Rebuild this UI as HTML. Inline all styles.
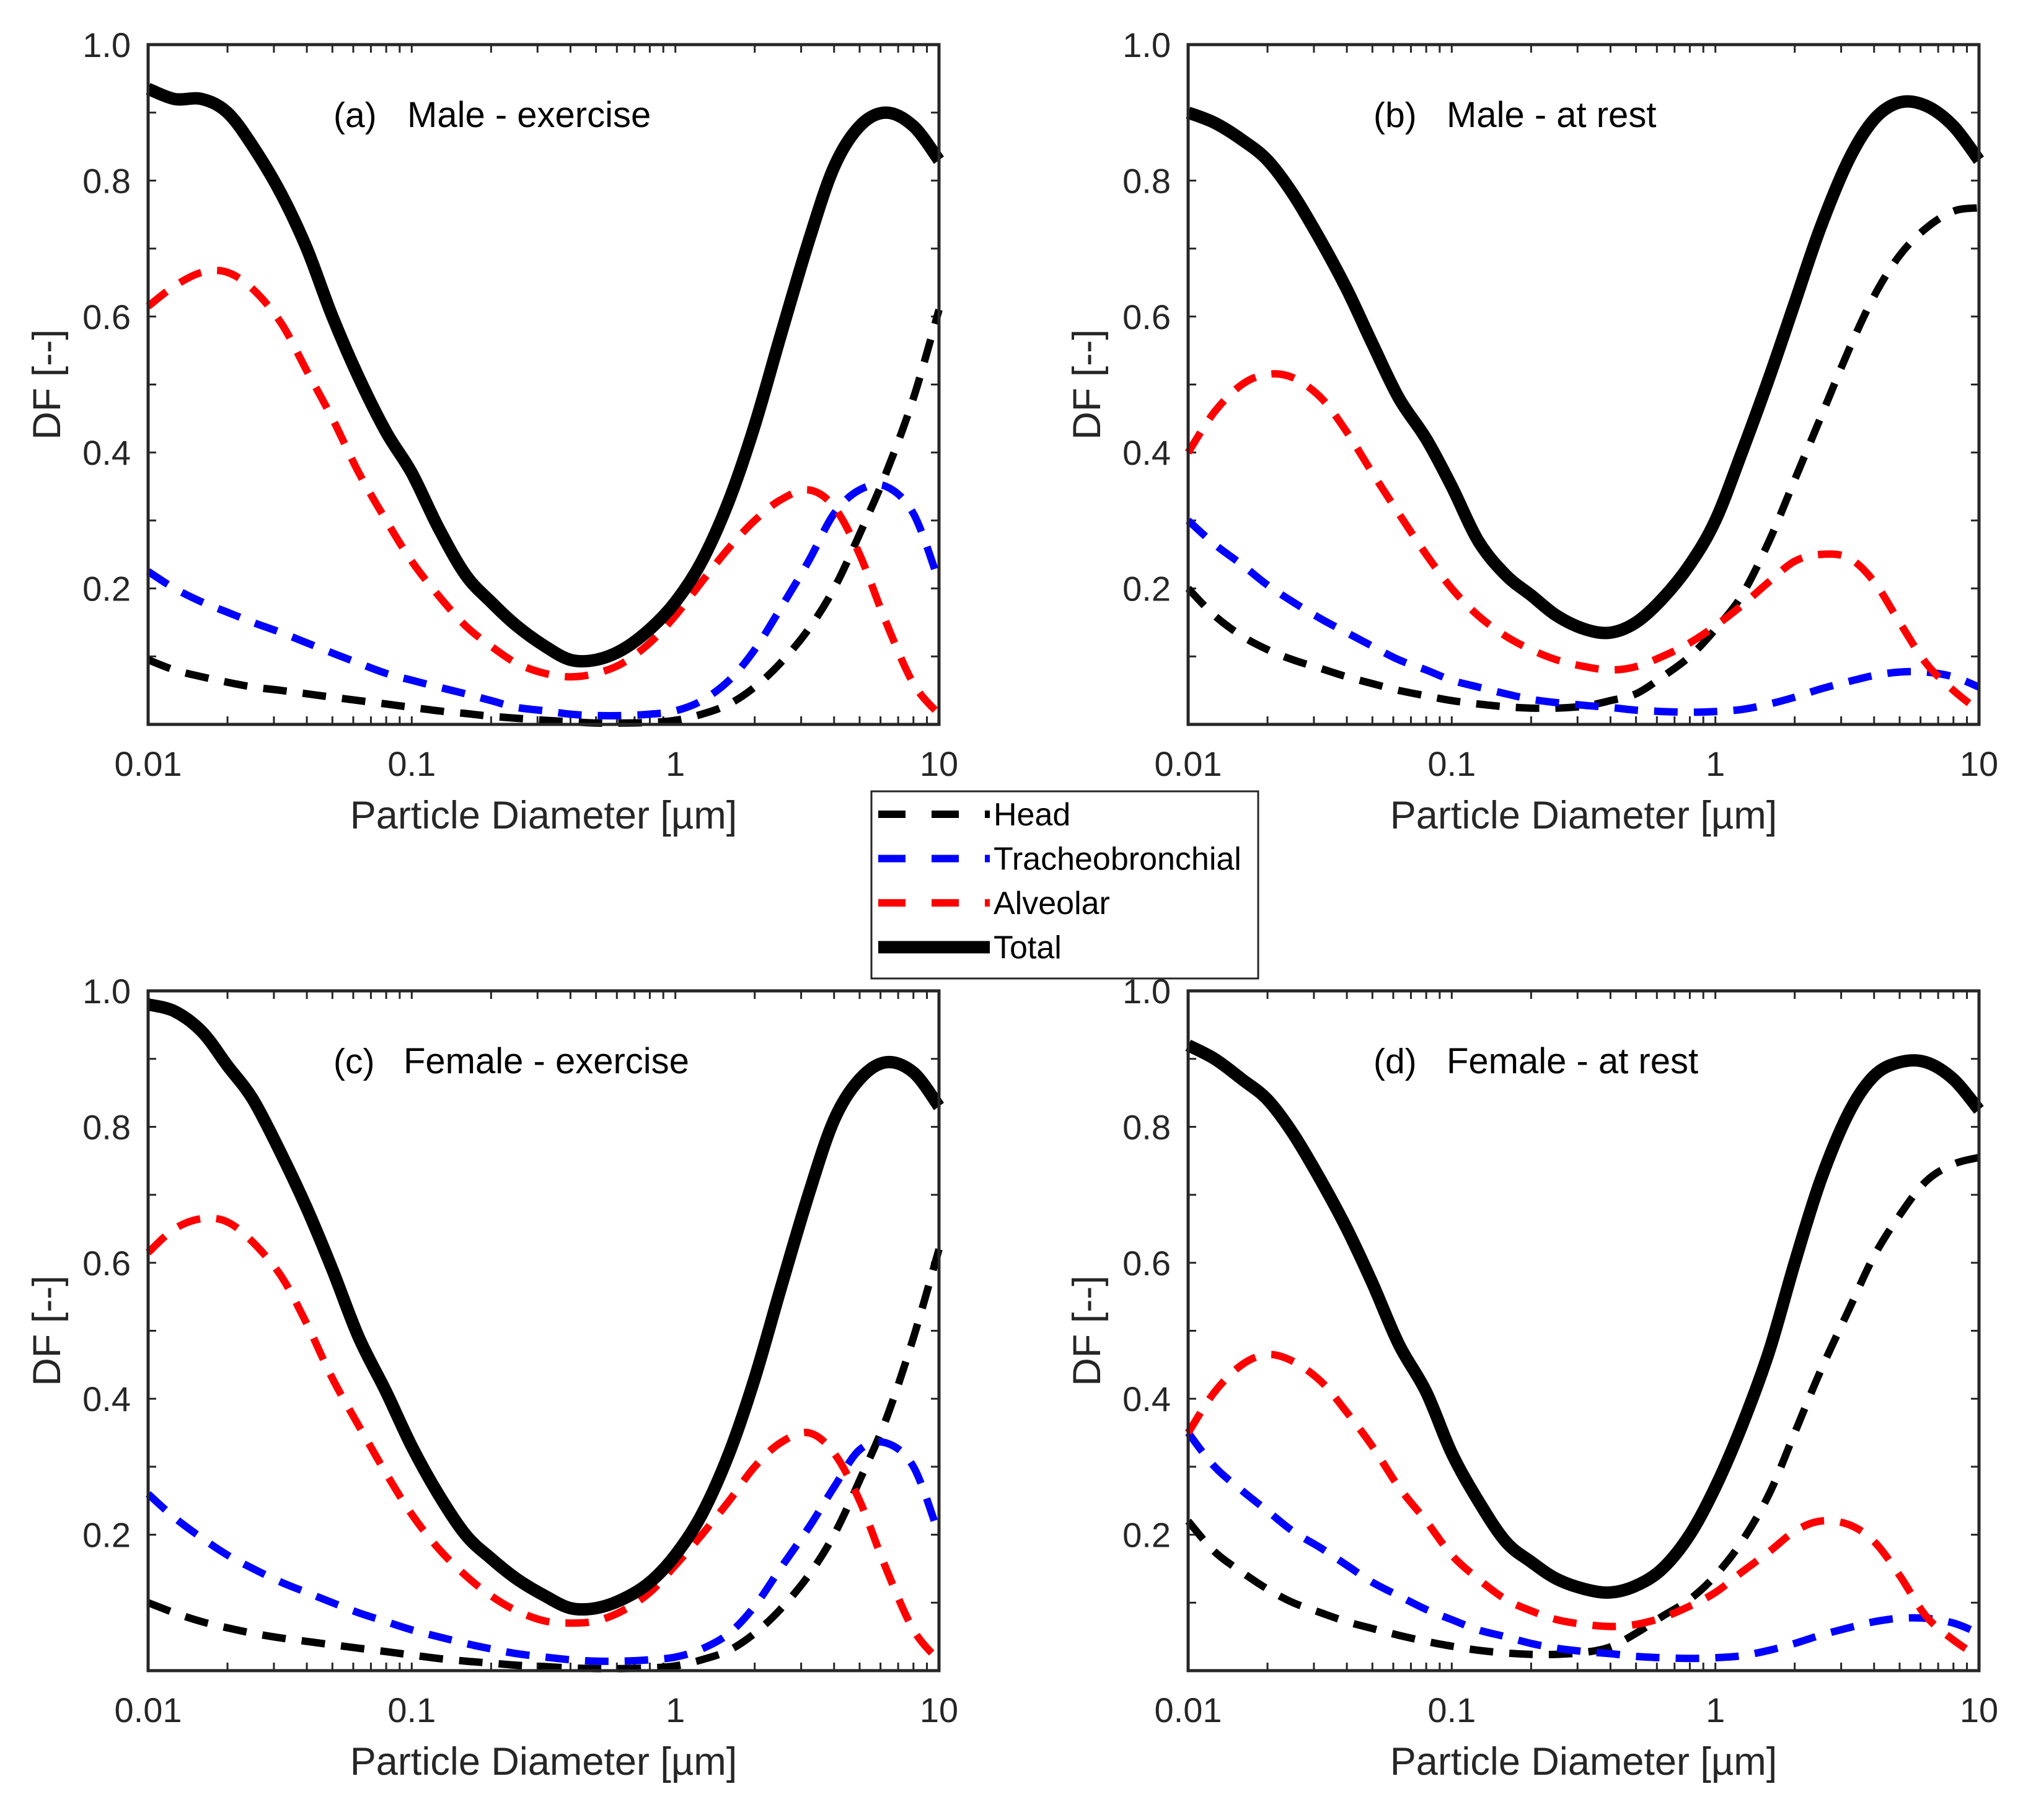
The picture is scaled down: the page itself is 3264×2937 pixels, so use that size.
<!DOCTYPE html>
<html><head><meta charset="utf-8"><style>
html,body{margin:0;padding:0;background:#fff;}
svg{display:block;font-family:"Liberation Sans",Arial,sans-serif;}
</style></head><body>
<svg id="fig" width="3264" height="2937" viewBox="0 0 3264 2937" xmlns="http://www.w3.org/2000/svg"></svg>
<script>
const diameters=[0.01,0.0126,0.016,0.02,0.025,0.032,0.04,0.05,0.063,0.08,0.1,0.126,0.16,0.2,0.25,0.32,0.4,0.5,0.63,0.8,1,1.26,1.6,2,2.5,3.2,4,5,6.3,8,10];
const aTotal=[0.935,0.92,0.92,0.9,0.85,0.78,0.70,0.60,0.51,0.43,0.37,0.29,0.22,0.18,0.145,0.115,0.095,0.095,0.11,0.14,0.18,0.24,0.33,0.44,0.57,0.71,0.82,0.88,0.9,0.88,0.83];
const aAlv=[0.615,0.645,0.665,0.665,0.64,0.59,0.52,0.45,0.37,0.30,0.24,0.19,0.145,0.115,0.09,0.075,0.07,0.075,0.09,0.12,0.16,0.21,0.26,0.30,0.33,0.345,0.32,0.25,0.15,0.06,0.015];
const aTB=[0.225,0.2,0.18,0.165,0.15,0.135,0.12,0.105,0.09,0.075,0.065,0.055,0.045,0.035,0.025,0.02,0.015,0.013,0.013,0.015,0.02,0.035,0.065,0.11,0.17,0.24,0.31,0.345,0.35,0.31,0.21];
const aHead=[0.095,0.08,0.07,0.062,0.055,0.05,0.045,0.04,0.035,0.03,0.025,0.02,0.016,0.012,0.009,0.006,0.004,0.002,0.002,0.003,0.006,0.015,0.03,0.055,0.09,0.14,0.2,0.28,0.37,0.48,0.61];
const bTotal=[0.9,0.885,0.86,0.83,0.78,0.71,0.64,0.56,0.48,0.42,0.35,0.27,0.22,0.19,0.16,0.14,0.135,0.15,0.185,0.235,0.3,0.4,0.51,0.62,0.73,0.83,0.89,0.915,0.91,0.88,0.83];
const bAlv=[0.4,0.46,0.5,0.515,0.51,0.48,0.43,0.37,0.31,0.25,0.2,0.16,0.13,0.11,0.095,0.085,0.08,0.085,0.1,0.12,0.145,0.175,0.21,0.24,0.25,0.245,0.21,0.15,0.09,0.05,0.02];
const bTB=[0.3,0.265,0.235,0.205,0.18,0.155,0.135,0.115,0.095,0.08,0.065,0.055,0.045,0.037,0.032,0.028,0.025,0.021,0.019,0.018,0.019,0.022,0.03,0.04,0.052,0.063,0.072,0.077,0.077,0.07,0.055];
const bHead=[0.2,0.16,0.13,0.11,0.095,0.082,0.07,0.06,0.05,0.042,0.035,0.03,0.026,0.024,0.024,0.027,0.035,0.045,0.07,0.1,0.14,0.19,0.27,0.36,0.45,0.55,0.63,0.69,0.73,0.755,0.76];
const cTotal=[0.98,0.97,0.94,0.89,0.84,0.76,0.68,0.59,0.49,0.41,0.33,0.26,0.2,0.165,0.135,0.11,0.092,0.092,0.105,0.13,0.17,0.23,0.32,0.43,0.56,0.70,0.81,0.87,0.895,0.88,0.83];
const cAlv=[0.615,0.65,0.665,0.66,0.63,0.58,0.51,0.43,0.36,0.29,0.23,0.18,0.14,0.11,0.088,0.073,0.07,0.073,0.088,0.115,0.155,0.2,0.25,0.3,0.335,0.35,0.32,0.25,0.15,0.06,0.015];
const cTB=[0.26,0.225,0.195,0.17,0.15,0.13,0.115,0.1,0.085,0.072,0.06,0.05,0.04,0.032,0.025,0.02,0.016,0.014,0.014,0.016,0.02,0.032,0.055,0.095,0.15,0.21,0.27,0.325,0.335,0.3,0.2];
const cHead=[0.1,0.085,0.072,0.063,0.055,0.048,0.043,0.038,0.033,0.028,0.023,0.018,0.014,0.011,0.008,0.006,0.004,0.003,0.003,0.004,0.007,0.016,0.03,0.055,0.09,0.14,0.2,0.28,0.37,0.49,0.62];
const dTotal=[0.92,0.9,0.87,0.84,0.79,0.72,0.65,0.57,0.48,0.41,0.32,0.25,0.19,0.16,0.135,0.12,0.115,0.125,0.15,0.2,0.27,0.36,0.47,0.6,0.72,0.82,0.875,0.895,0.895,0.87,0.825];
const dAlv=[0.35,0.41,0.45,0.465,0.455,0.425,0.38,0.33,0.27,0.22,0.17,0.135,0.105,0.088,0.075,0.068,0.065,0.068,0.078,0.095,0.115,0.145,0.175,0.205,0.22,0.215,0.19,0.14,0.08,0.045,0.02];
const dTB=[0.35,0.3,0.265,0.235,0.205,0.18,0.155,0.13,0.11,0.09,0.075,0.06,0.05,0.04,0.033,0.028,0.025,0.021,0.019,0.018,0.019,0.022,0.03,0.04,0.052,0.063,0.072,0.077,0.077,0.07,0.055];
const dHead=[0.22,0.175,0.145,0.12,0.1,0.085,0.072,0.062,0.052,0.043,0.036,0.03,0.026,0.024,0.024,0.027,0.035,0.055,0.08,0.105,0.14,0.19,0.26,0.35,0.44,0.53,0.61,0.67,0.72,0.745,0.755];
const yTickLabels=["0.2","0.4","0.6","0.8","1.0"];
const yTickValues=[0.2,0.4,0.6,0.8,1.0];
const xTickLabels=["0.01","0.1","1","10"];
const xTickValues=[0.01,0.1,1,10];
const panelTags=["(a)","(b)","(c)","(d)"];
const panelTitles=["Male - exercise","Male - at rest","Female - exercise","Female - at rest"];

const NS="http://www.w3.org/2000/svg";
const svg=document.getElementById('fig');
function mk(tag,attrs,parent){const e=document.createElementNS(NS,tag);for(const k in attrs)e.setAttribute(k,attrs[k]);(parent||svg).appendChild(e);return e;}
function smooth(pts){let d='M'+pts[0][0].toFixed(1)+','+pts[0][1].toFixed(1);
 for(let i=0;i<pts.length-1;i++){const p0=pts[i-1]||pts[i],p1=pts[i],p2=pts[i+1],p3=pts[i+2]||p2;
  const c1=[p1[0]+(p2[0]-p0[0])/6,p1[1]+(p2[1]-p0[1])/6],c2=[p2[0]-(p3[0]-p1[0])/6,p2[1]-(p3[1]-p1[1])/6];
  d+='C'+c1.map(v=>v.toFixed(1)).join(',')+' '+c2.map(v=>v.toFixed(1)).join(',')+' '+p2[0].toFixed(1)+','+p2[1].toFixed(1);}
 return d;}

const W=1276,H=1097;
const panels=[
 {x:239,y:72,t:aTotal,al:aAlv,tb:aTB,h:aHead,id:'a'},
 {x:1917,y:72,t:bTotal,al:bAlv,tb:bTB,h:bHead,id:'b'},
 {x:239,y:1599,t:cTotal,al:cAlv,tb:cTB,h:cHead,id:'c'},
 {x:1917,y:1599,t:dTotal,al:dAlv,tb:dTB,h:dHead,id:'d'}];

panels.forEach((p,i)=>{
 const g=mk('g',{});
 
 
 const X=v=>p.x+(Math.log10(v)+2)/3*W;
 const Y=v=>p.y+H-v*H;
 const tk=mk('g',{stroke:'#262626','stroke-width':3},g);
 
 
 for(let k=1;k<10;k++){const yy=Y(k/10);
  mk('line',{x1:p.x,x2:p.x+13,y1:yy,y2:yy},tk);mk('line',{x1:p.x+W-13,x2:p.x+W,y1:yy,y2:yy},tk);}
 for(let e=-2;e<1;e++){for(let m=1;m<10;m++){const v=m*Math.pow(10,e);if(v<=0.01)continue;const xx=X(v);
  mk('line',{x1:xx,x2:xx,y1:p.y+H,y2:p.y+H-13},tk);mk('line',{x1:xx,x2:xx,y1:p.y,y2:p.y+13},tk);}}
 const series=[[p.h,'#000','38 26',12,'head'],[p.tb,'#0000ff','38 26',12,'tracheobronchial'],[p.al,'#ff0000','38 26',12,'alveolar'],[p.t,'#000','none',20,'total']];
 series.forEach(s=>{
  const d=smooth(diameters.map((v,j)=>[X(v),Y(s[0][j])]));
  const path=mk('path',{d:d,fill:'none',stroke:s[1],'stroke-width':s[3],'stroke-dasharray':s[2],'stroke-linejoin':'round'},g);
  
  
 });
 const fr=mk('rect',{x:p.x,y:p.y,width:W,height:H,fill:'none',stroke:'#262626','stroke-width':5},g);
 
 
 yTickLabels.forEach((l,k)=>{const t=mk('text',{x:p.x-28,y:Y(yTickValues[k])+20,'text-anchor':'end','font-size':56,fill:'#262626'},g);t.textContent=l;
  
  });
 xTickLabels.forEach((l,k)=>{const t=mk('text',{x:X(xTickValues[k]),y:p.y+H+83,'text-anchor':'middle','font-size':56,fill:'#262626'},g);t.textContent=l;
  
  });
 const xl=mk('text',{x:p.x+W/2,y:p.y+H+168,'text-anchor':'middle','font-size':63,fill:'#262626'},g);xl.textContent='Particle Diameter [µm]';
 
 
 const yl=mk('text',{x:0,y:0,'text-anchor':'middle','font-size':63,fill:'#262626',transform:`translate(${p.x-142},${p.y+H/2}) rotate(-90)`},g);yl.textContent='DF [--]';
 
 
 const tg=mk('text',{x:p.x+299,y:p.y+133,'font-size':57,fill:'#000'},g);tg.textContent=panelTags[i];
 
 
 const tt=mk('text',{x:p.x+(i%2?417:(i==2?412:418)),y:p.y+133,'font-size':58,fill:'#000'},g);tt.textContent=panelTitles[i];
 
 
});

const lg=mk('g',{});


const box=mk('rect',{x:1406,y:1277,width:624,height:302,fill:'#fff',stroke:'#262626','stroke-width':3},lg);


const legItems=[['Head','#000','44 42',12],['Tracheobronchial','#0000ff','44 42',12],['Alveolar','#ff0000','44 42',12],['Total','#000','none',20]];
legItems.forEach((it,k)=>{
 const yy=1314+k*71.5;
 const ln=mk('line',{x1:1417,x2:1597,y1:yy,y2:yy,stroke:it[1],'stroke-width':it[3],'stroke-dasharray':it[2]},lg);
 
 
 const t=mk('text',{x:1603,y:yy+18,'font-size':52,fill:'#000'},lg);t.textContent=it[0];
 
 
});
</script>
</body></html>
